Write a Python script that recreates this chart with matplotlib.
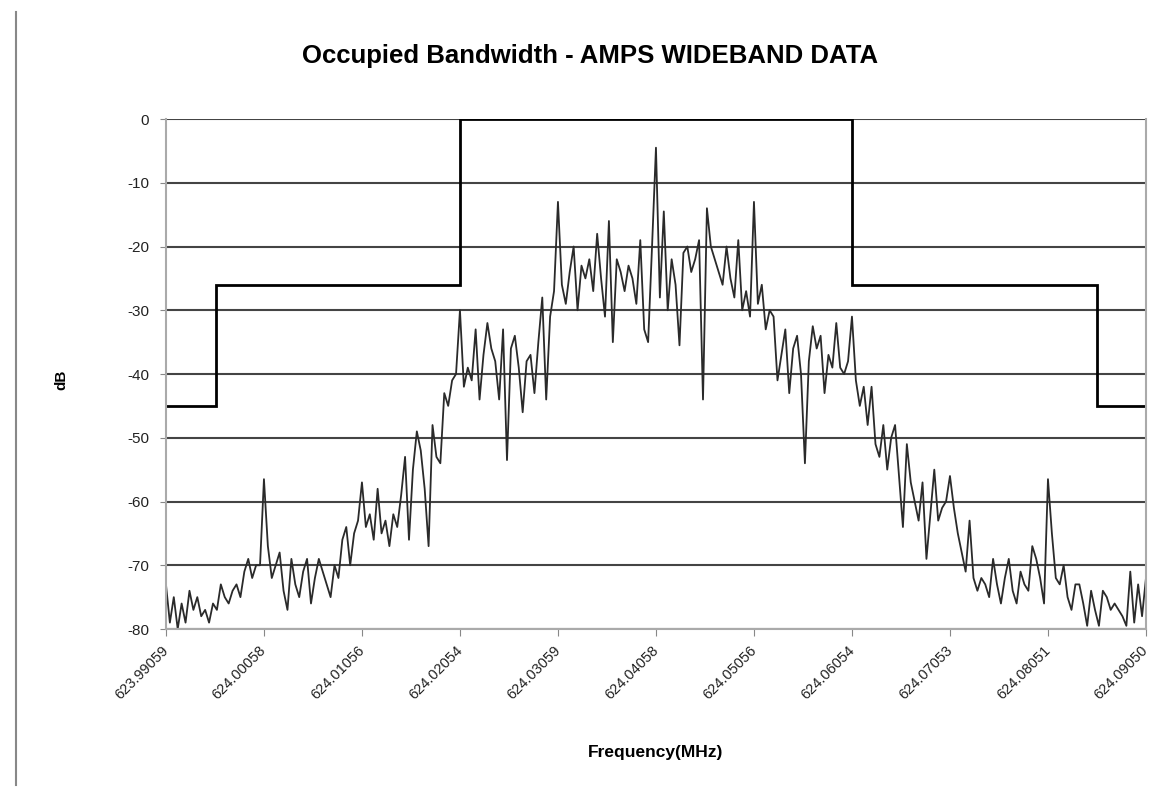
import numpy as np
import matplotlib.pyplot as plt
import matplotlib.transforms as mtransforms
from matplotlib.lines import Line2D

plt.rcParams['font.family'] = ['Liberation Sans', 'DejaVu Sans']
plt.rcParams['axes.unicode_minus'] = False

freq_labels = ["623.99059", "624.00058", "624.01056", "624.02054", "624.03059",
               "624.04058", "624.05056", "624.06054", "624.07053", "624.08051",
               "624.09050"]

# measured spectrum, dB (251 samples, 25 per label step)
level = np.array([
    -73, -79, -75, -80, -76, -79, -74, -77, -75, -78, -77, -79, -76, -77, -73, -75, -76, -74, -73, -75, -71, -69, -72, -70, -70,
    -56.5, -67, -72, -70, -68, -74, -77, -69, -73, -75, -71, -69, -76, -72, -69, -71, -73, -75, -70, -72, -66, -64, -70, -65, -63,
    -57, -64, -62, -66, -58, -65, -63, -67, -62, -64, -59, -53, -66, -55, -49, -52, -58, -67, -48, -53, -54, -43, -45, -41, -40,
    -30, -42, -39, -41, -33, -44, -37, -32, -36, -38, -44, -33, -53.5, -36, -34, -39, -46, -38, -37, -43, -35, -28, -44, -31, -27,
    -13, -26, -29, -24, -20, -30, -23, -25, -22, -27, -18, -25, -31, -16, -35, -22, -24, -27, -23, -25, -29, -19, -33, -35, -20,
    -4.5, -28, -14.5, -30, -22, -26, -35.5, -21, -20, -24, -22, -19, -44, -14, -20, -22, -24, -26, -20, -25, -28, -19, -30, -27, -31,
    -13, -29, -26, -33, -30, -31, -41, -37, -33, -43, -36, -34, -40, -54, -38, -32.5, -36, -34, -43, -37, -39, -32, -39, -40, -38,
    -31, -41, -45, -42, -48, -42, -51, -53, -48, -55, -50, -48, -56, -64, -51, -57, -60, -63, -57, -69, -62, -55, -63, -61, -60,
    -56, -61, -65, -68, -71, -63, -72, -74, -72, -73, -75, -69, -73, -76, -72, -69, -74, -76, -71, -73, -74, -67, -69, -72, -76,
    -56.5, -65, -72, -73, -70, -75, -77, -73, -73, -76, -79.5, -74, -77, -79.5, -74, -75, -77, -76, -77, -78, -79.5, -71, -79, -73, -78,
    -72])

# limit mask: edges in sample index, level in dB
mask_edges = [0, 12.8, 75, 175, 237.5, 250]
mask_db = [-45, -26, 0, -26, -45]

fig = plt.figure(figsize=(11.5, 7.95), dpi=100)
ax = fig.add_axes([0.1443, 0.2088, 0.8522, 0.6415])

ax.plot(np.arange(len(level)), level, color="#2a2a2a", lw=1.3)
ax.stairs(mask_db, mask_edges, baseline=None, color="black", lw=2)

ax.set_xlim(0, 250)
ax.set_ylim(-80, 0)
ax.set_yticks(range(-80, 1, 10))
ax.set_xticks(range(0, 251, 25))
ax.set_xticklabels(freq_labels, rotation=45, ha="right", va="top",
                   rotation_mode="anchor", fontsize=10.5, color="#222222")
ax.tick_params(axis="y", labelsize=11, length=4, color="#888888",
               labelcolor="#222222", pad=8)
ax.tick_params(axis="x", length=5, color="#888888", pad=5)
shift = mtransforms.ScaledTranslation(-0.05, 0, fig.dpi_scale_trans)
for lab in ax.get_xticklabels():
    lab.set_transform(lab.get_transform() + shift)
ax.grid(axis="y", color="#444444", lw=1.5)
ax.set_axisbelow(True)
for s in ax.spines.values():
    s.set_color("#aaaaaa")
    s.set_linewidth(1.5)
ax.spines["top"].set_visible(False)

fig.text(0.513, 0.93, "Occupied Bandwidth - AMPS WIDEBAND DATA",
         ha="center", va="center", fontsize=18.5, fontweight="bold")
fig.text(0.053, 0.522, "dB", rotation=90, ha="center", va="center",
         fontsize=11, fontweight="bold")
fig.text(0.570, 0.054, "Frequency(MHz)", ha="center", va="center",
         fontsize=12.5, fontweight="bold")

fig.add_artist(Line2D([0.014, 0.014], [0.013, 0.985], color="#888888", lw=1.5))

plt.savefig("out.png", dpi=100)
